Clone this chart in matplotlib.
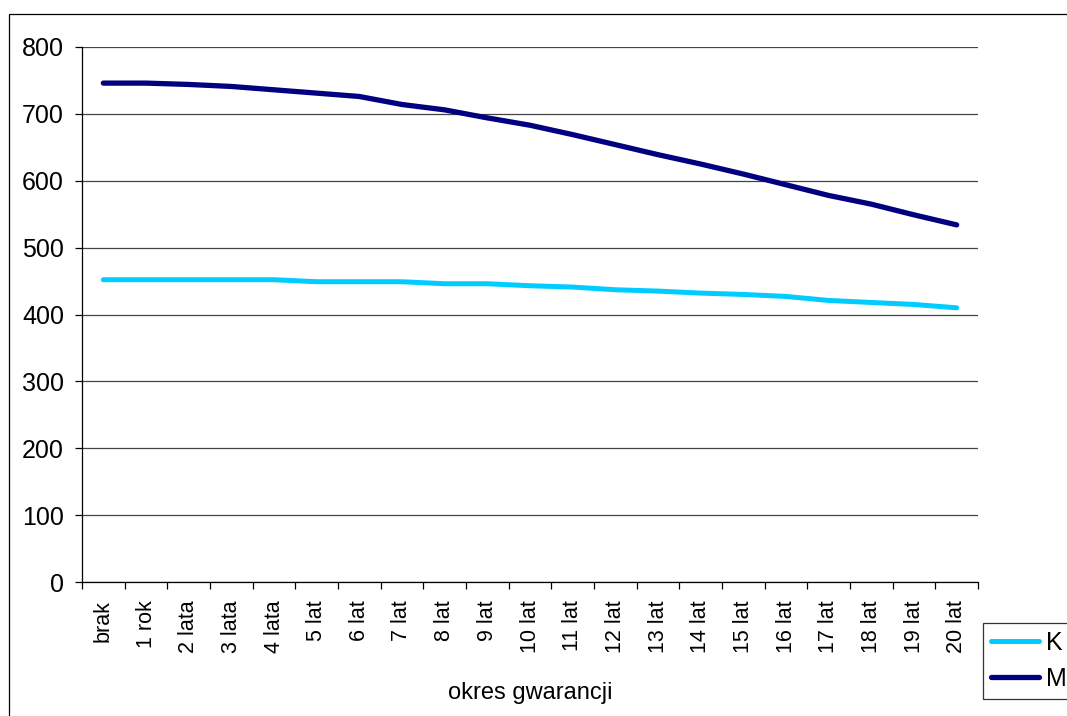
import numpy as np
import matplotlib
matplotlib.use("Agg")
import matplotlib.pyplot as plt
from matplotlib.patches import Rectangle

plt.rcParams['font.family'] = ['Liberation Sans', 'DejaVu Sans']

okresy = ['brak', '1 rok', '2 lata', '3 lata', '4 lata', '5 lat', '6 lat', '7 lat',
          '8 lat', '9 lat', '10 lat', '11 lat', '12 lat', '13 lat', '14 lat', '15 lat',
          '16 lat', '17 lat', '18 lat', '19 lat', '20 lat']
K = [452, 452, 452, 452, 452, 449, 449, 449, 446, 446, 443, 441, 437, 435, 432, 430,
     427, 421, 418, 415, 410]
M = [746, 746, 744, 741, 736, 731, 726, 714, 706, 694, 683, 669, 654, 639, 625, 610,
     594, 578, 565, 549, 534]

fig = plt.figure(figsize=(10.67, 7.16), dpi=100)
ax = fig.add_axes([82 / 1067, 134 / 716, 896 / 1067, 535 / 716])

x = np.arange(len(okresy))
ax.plot(x, K, color='#00CCFF', lw=3.6, solid_capstyle='round', label='K', zorder=3)
ax.plot(x, M, color='#000080', lw=3.8, solid_capstyle='round', label='M', zorder=3)

ax.set_xlim(-0.5, len(okresy) - 0.5)
ax.set_ylim(0, 800)
ax.set_yticks(range(0, 801, 100))
ax.yaxis.grid(True, color='#444444', lw=0.9)
ax.set_axisbelow(True)

ax.set_xticks(x)
ax.set_xticklabels(okresy, rotation=90, fontsize=15.5)
ax.set_xticks(np.arange(-0.5, len(okresy), 1), minor=True)
ax.tick_params(axis='x', which='major', length=0, pad=13)
ax.tick_params(axis='x', which='minor', length=5, width=0.9, direction='out')
ax.tick_params(axis='y', length=5, width=0.9, direction='out', labelsize=18, pad=8)

for s in ['top', 'right']:
    ax.spines[s].set_visible(False)
ax.spines['left'].set_linewidth(0.9)
ax.spines['bottom'].set_linewidth(0.9)

ax.set_xlabel('okres gwarancji', fontsize=17, labelpad=21)

leg = fig.legend(loc='upper left', bbox_to_anchor=(983 / 1067, (716 - 623) / 716),
                 borderaxespad=0, fontsize=18, handlelength=1.95, handletextpad=0.25,
                 borderpad=0.3, labelspacing=0.5, frameon=True, fancybox=False,
                 edgecolor='black')
leg.get_frame().set_linewidth(0.9)

# outer chart frame
fig.patches.append(Rectangle((9 / 1067, -0.1), 1.2, (716 - 14) / 716 + 0.1,
                             transform=fig.transFigure, fill=False,
                             edgecolor='black', lw=0.9))

fig.savefig('out.png', dpi=100)
